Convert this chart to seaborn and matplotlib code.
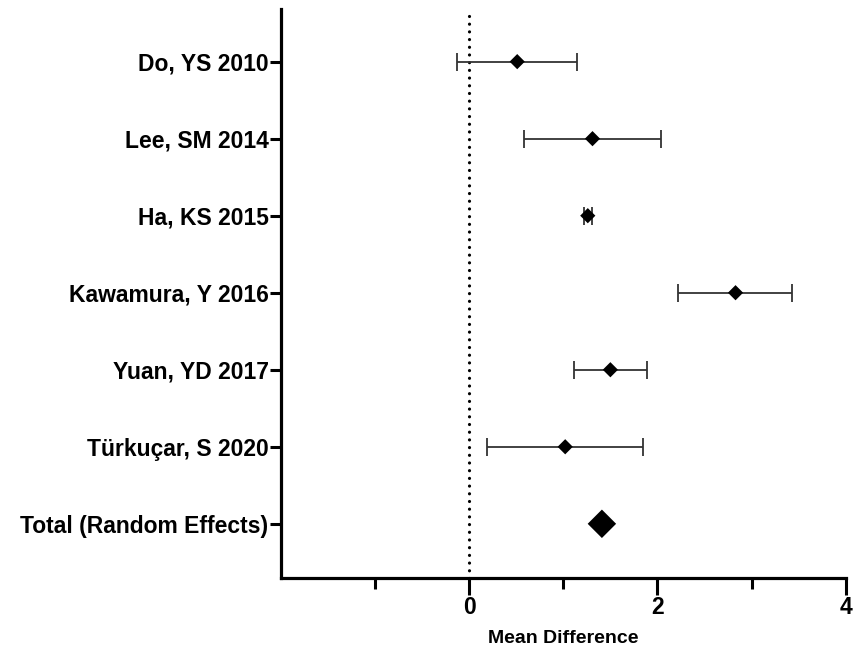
# forest plot of mean differences

import numpy as np
import pandas as pd
import seaborn as sns
import matplotlib.pyplot as plt
from matplotlib.ticker import FixedLocator

studies = ["Do, YS 2010", "Lee, SM 2014", "Ha, KS 2015", "Kawamura, Y 2016",
           "Yuan, YD 2017", "Türkuçar, S 2020", "Total (Random Effects)"]
mean_diff = [0.51, 1.31, 1.26, 2.83, 1.50, 1.02, 1.41]
ci_low = [-0.13, 0.58, 1.22, 2.22, 1.11, 0.19, np.nan]
ci_high = [1.15, 2.04, 1.30, 3.43, 1.89, 1.85, np.nan]

def make_plot():
    sns.set_style("ticks", {"axes.edgecolor": "black", "text.color": "black",
                            "xtick.color": "black", "ytick.color": "black",
                            "axes.labelcolor": "black"})
    plt.rcParams["font.family"] = ["Liberation Sans", "DejaVu Sans"]
    plt.rcParams["font.weight"] = "bold"

    df = pd.DataFrame({"study": studies, "md": mean_diff,
                       "lo": ci_low, "hi": ci_high})
    df["row"] = range(len(df))
    df["kind"] = ["study"] * (len(df) - 1) + ["total"]

    fig = plt.figure(figsize=(8.62, 6.61), dpi=100)
    ax = fig.add_axes([0.326, 0.126, 0.655, 0.86])

    # zero line
    ax.axvline(0, color="black", lw=2.3, linestyle=(0, (0.01, 2.4)),
               dash_capstyle="round", zorder=1)

    # confidence intervals
    ci = df.dropna()
    ax.errorbar(ci["md"], ci["row"],
                xerr=[ci["md"] - ci["lo"], ci["hi"] - ci["md"]],
                fmt="none", ecolor="#333333", elinewidth=1.3,
                capsize=6.5, capthick=1.3, zorder=2)

    sns.scatterplot(data=df, x="md", y="row", hue="kind", size="kind",
                    sizes={"study": 60, "total": 210},
                    palette={"study": "black", "total": "black"},
                    marker="D", linewidth=0, legend=False, ax=ax, zorder=3)

    ax.set_xlim(-2, 4)
    ax.set_ylim(len(df) - 0.3, -0.68)
    ax.set_yticks(df["row"])
    ax.set_yticklabels(df["study"], fontsize=16.5, fontweight="bold")
    ax.set_xticks([0, 2, 4])
    ax.set_xticklabels(["0", "2", "4"], fontsize=16.5, fontweight="bold")
    ax.xaxis.set_minor_locator(FixedLocator([-1, 1, 3]))
    ax.set_xlabel("Mean Difference", fontsize=14, fontweight="bold", labelpad=8)
    ax.set_ylabel("")

    for side in ["top", "right"]:
        ax.spines[side].set_visible(False)
    for side in ["left", "bottom"]:
        ax.spines[side].set_linewidth(2.3)
    ax.tick_params(axis="y", length=8, width=2.2, pad=1)
    ax.tick_params(axis="x", which="major", length=12, width=2.2, pad=1)
    ax.tick_params(axis="x", which="minor", length=8, width=2.2)

    fig.savefig("out.png", dpi=100)

if __name__ == "__main__":
    make_plot()
